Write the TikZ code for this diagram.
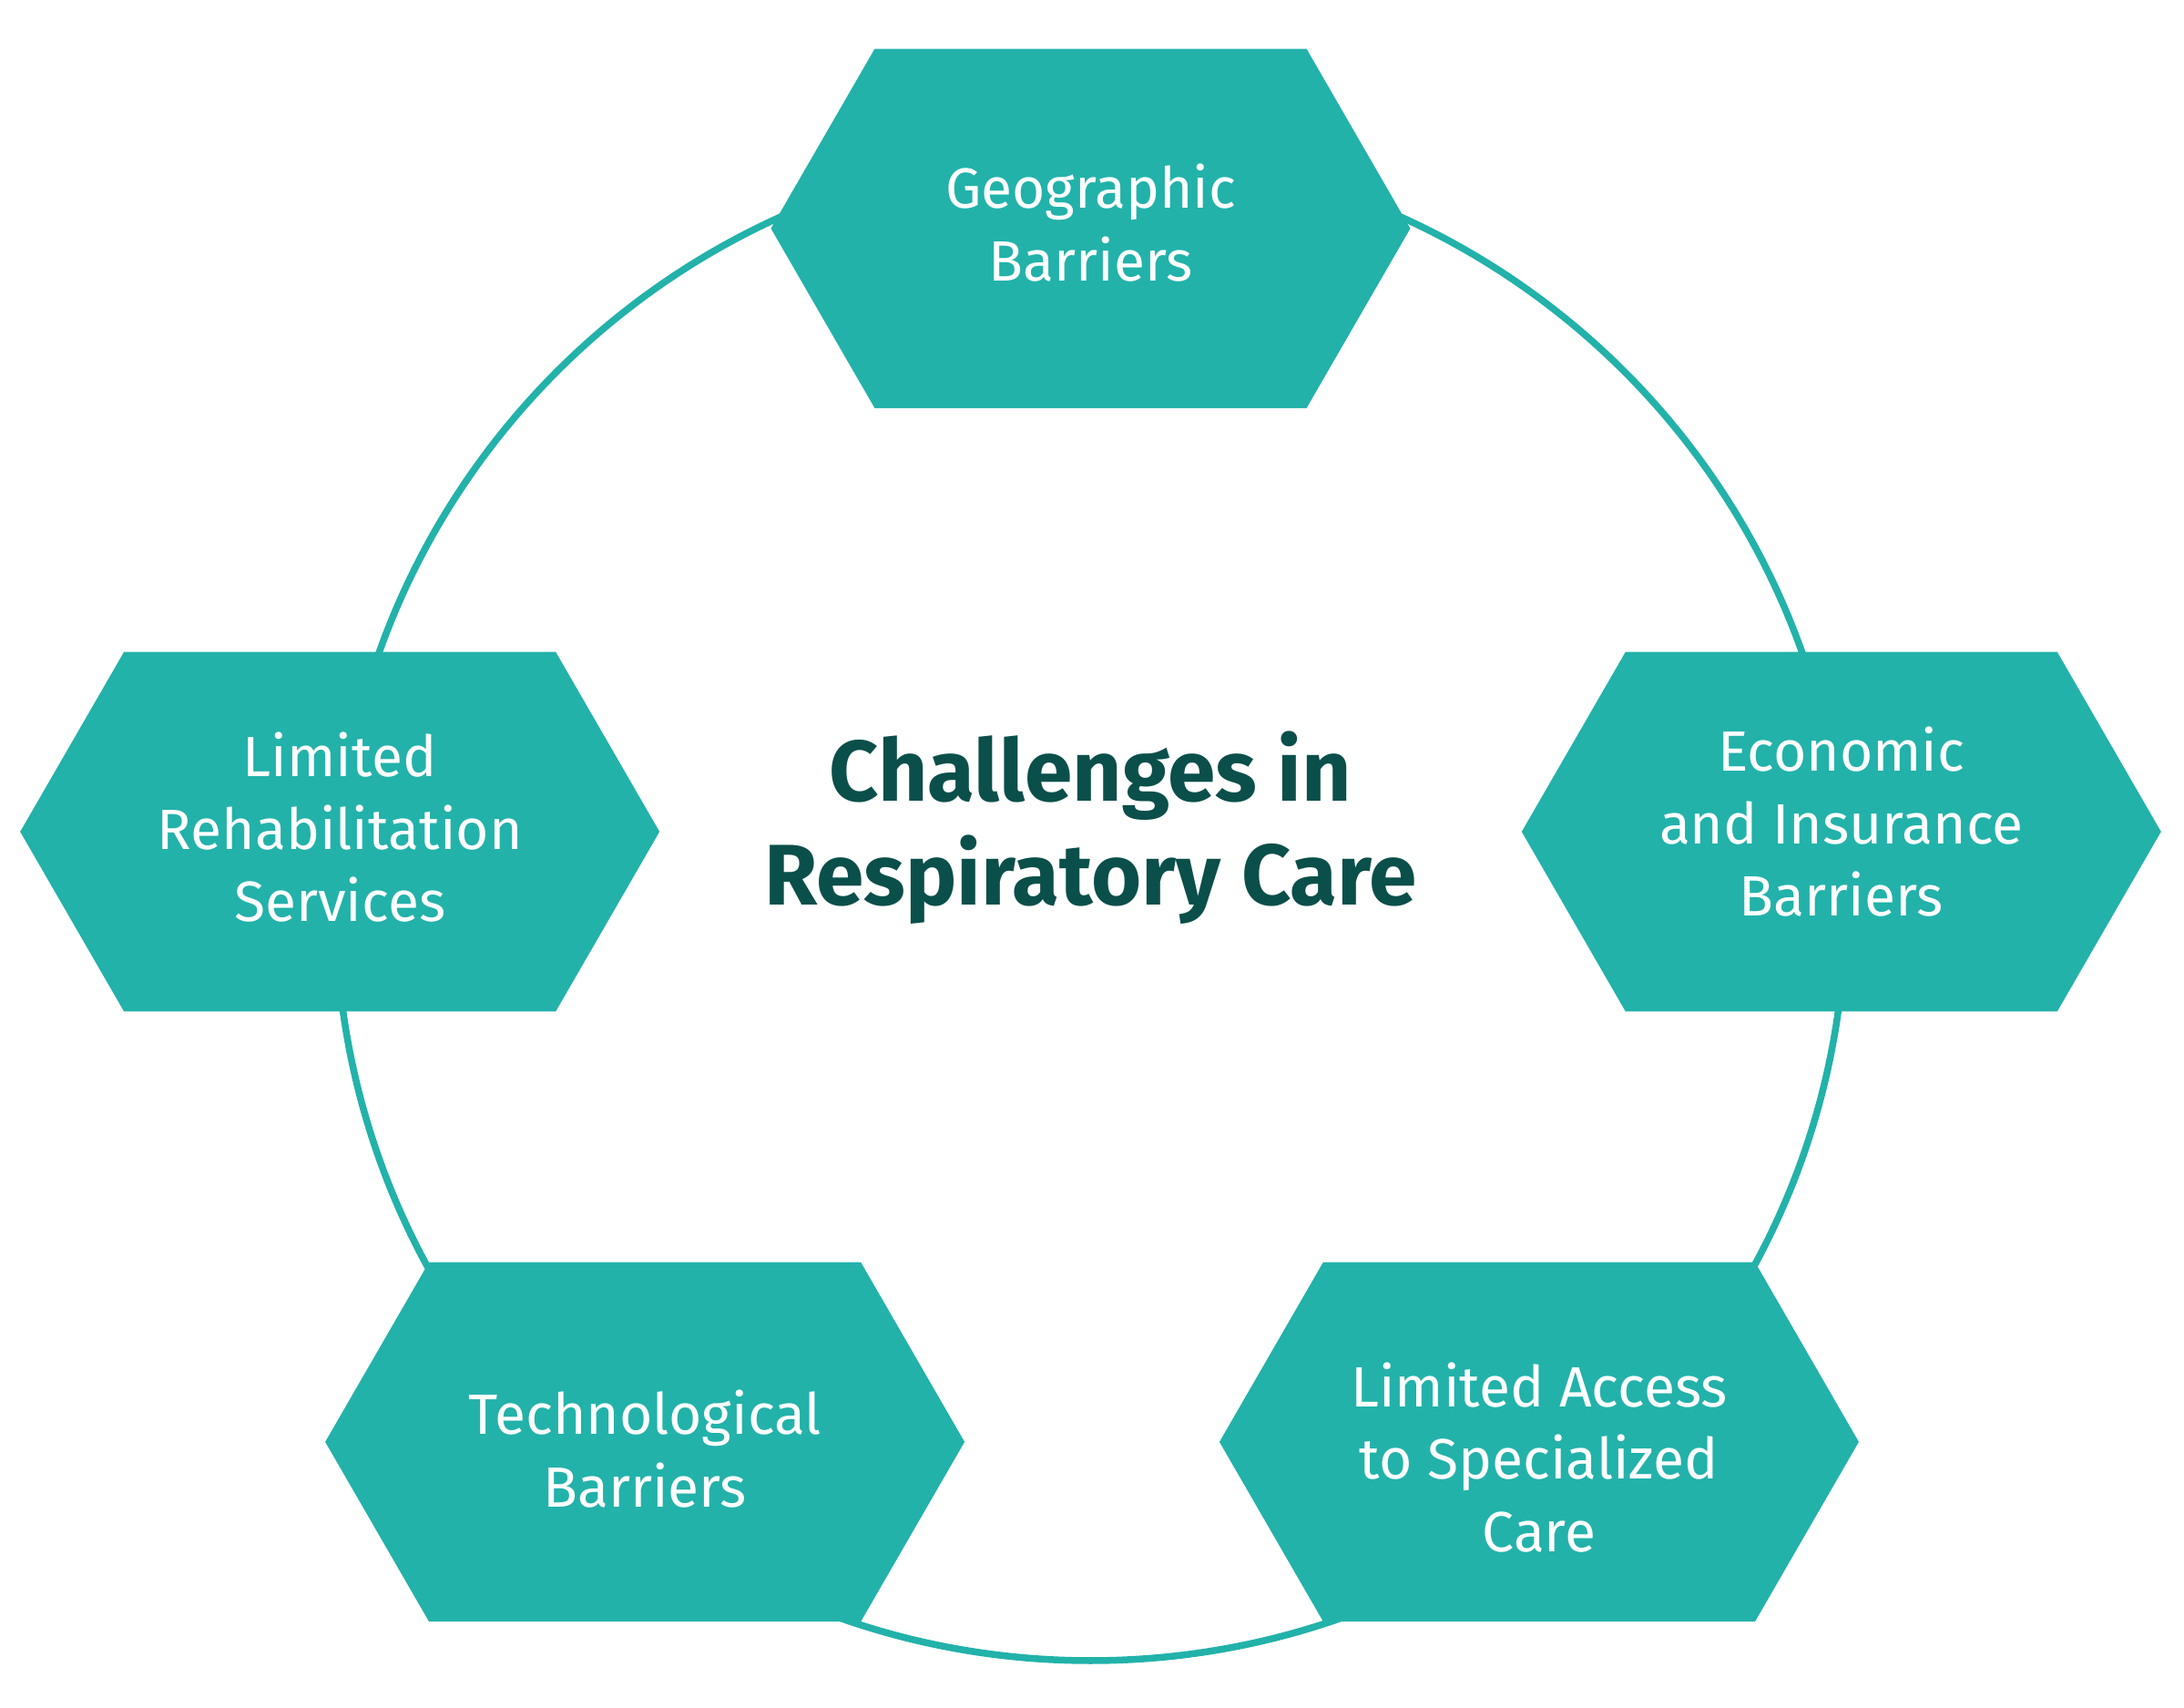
\documentclass[tikz,border=0pt]{standalone}
\usepackage{fontspec}
\setmainfont{Fira Sans}
\definecolor{teal1}{HTML}{22B2AA}
\definecolor{dark1}{HTML}{0B4F4A}
\newcommand{\hexat}[2]{\fill[teal1] (#1-229.5,#2) -- (#1-155,#2-129) -- (#1+155,#2-129) -- (#1+229.5,#2) -- (#1+155,#2+129) -- (#1-155,#2+129) -- cycle;}
\tikzset{lbl/.style={text=white,align=center,font=\fontsize{58}{74}\selectfont}}
\begin{document}
\begin{tikzpicture}[x=0.05cm,y=-0.05cm]
\useasboundingbox (0,0) rectangle (1568,1226);
\coordinate (c) at (783,650);
\draw[teal1,line width=7pt] (c) circle[radius=542];
\hexat{783}{164}
\hexat{244}{597}
\hexat{1322}{597}
\hexat{463}{1035}
\hexat{1105}{1035}
\node[lbl] (geo) at (783,160) {Geographic\\Barriers};
\node[lbl] (reh) at (244,594) {Limited\\Rehabilitation\\Services};
\node[lbl] (eco) at (1322,590) {Economic\\and Insurance\\Barriers};
\node[lbl] (tec) at (463,1040) {Technological\\Barriers};
\node[lbl] (acc) at (1105,1046) {Limited Access\\to Specialized\\Care};
\node[text=dark1,align=center,font=\bfseries\fontsize{88}{106}\selectfont] (title) at (783,594) {Challenges in\\Respiratory Care};
\end{tikzpicture}
\end{document}
